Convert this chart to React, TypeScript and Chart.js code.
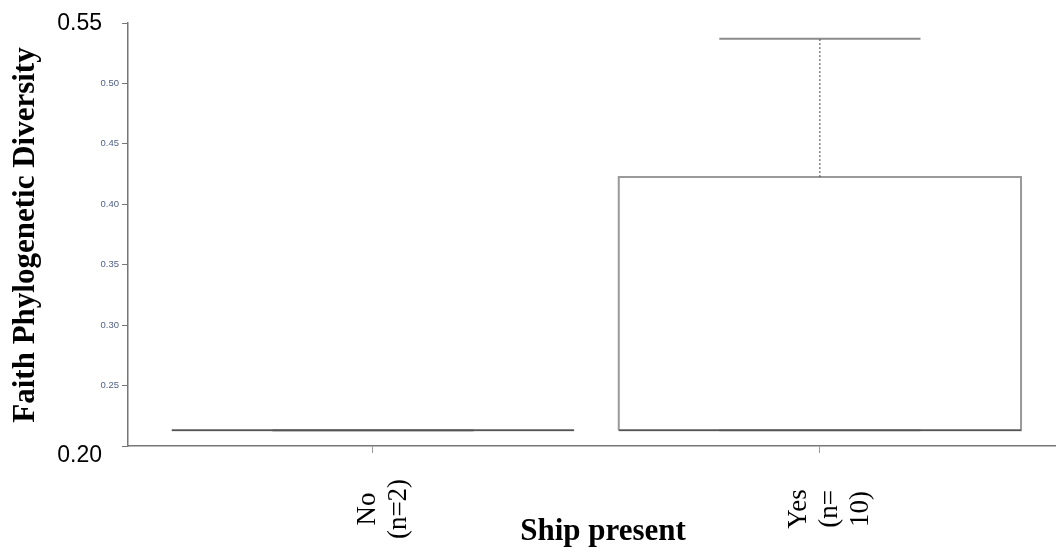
import React, { useEffect, useRef } from "react";
import { Chart, registerables } from "chart.js";

Chart.register(...registerables);

// ---- data ----
const categories = ["No", "Yes"];
const categoryLabelLines = [
  ["No", "(n=2)"],
  ["Yes", "(n=", "10)"],
];
const minValues = [0.213, 0.213];
const q1Values = [0.213, 0.213];
const medianValues = [0.213, 0.213];
const q3Values = [0.213, 0.4225];
const maxValues = [0.213, 0.537];

const yMin = 0.2;
const yMax = 0.55;
const yStep = 0.05;
const yEdgeLabels = ["0.55", "0.20"];
const yTitle = "Faith Phylogenetic Diversity";
const xTitle = "Ship present";

// x-axis range (categories sit at 1, 2, ...)
const xMin = 0.452;
const xMax = 2.526;

const BOX_HALF = 0.45;
const CAP_HALF = 0.225;

const seg = (x0: number, y0: number, x1: number, y1: number) => [
  { x: x0, y: y0 },
  { x: x1, y: y1 },
];

function buildDatasets() {
  const ds: any[] = [];
  categories.forEach((_, i) => {
    const c = i + 1;
    const base = { showLine: true, pointRadius: 0, fill: false, tension: 0 };
    ds.push({
      ...base,
      order: 3,
      data: [
        { x: c - BOX_HALF, y: q1Values[i] },
        { x: c - BOX_HALF, y: q3Values[i] },
        { x: c + BOX_HALF, y: q3Values[i] },
        { x: c + BOX_HALF, y: q1Values[i] },
        { x: c - BOX_HALF, y: q1Values[i] },
      ],
      borderColor: "#9a9a9a",
      borderWidth: 2,
    });
    ds.push({
      ...base,
      order: 0,
      data: seg(c - BOX_HALF, medianValues[i], c + BOX_HALF, medianValues[i]),
      borderColor: "#555555",
      borderWidth: 1.5,
    });
    ds.push({
      ...base,
      order: 1,
      data: seg(c, q3Values[i], c, maxValues[i]),
      borderColor: "#444444",
      borderWidth: 1,
      borderDash: [2, 2],
    });
    ds.push({
      ...base,
      order: 1,
      data: seg(c, minValues[i], c, q1Values[i]),
      borderColor: "#444444",
      borderWidth: 1,
      borderDash: [2, 2],
    });
    ds.push({
      ...base,
      order: 2,
      data: seg(c - CAP_HALF, maxValues[i], c + CAP_HALF, maxValues[i]),
      borderColor: "#8a8a8a",
      borderWidth: 2,
    });
    ds.push({
      ...base,
      order: 2,
      data: seg(c - CAP_HALF, minValues[i], c + CAP_HALF, minValues[i]),
      borderColor: "#8a8a8a",
      borderWidth: 2,
    });
  });
  return ds;
}

const textPlugin = {
  id: "textPlugin",
  afterDraw(chart: any) {
    const ctx = chart.ctx;
    const xs = chart.scales.x;
    const ys = chart.scales.y;
    ctx.save();
    ctx.fillStyle = "#000";

    // big edge labels
    ctx.font = '23px "Liberation Sans", Arial, sans-serif';
    ctx.textAlign = "right";
    ctx.textBaseline = "middle";
    ctx.fillText(yEdgeLabels[0], ys.right - 26, ys.getPixelForValue(yMax) + 1);
    ctx.fillText(yEdgeLabels[1], ys.right - 26, ys.getPixelForValue(yMin) + 10);

    // y title
    ctx.font = 'bold 31px "Liberation Serif", "Times New Roman", serif';
    ctx.save();
    ctx.translate(26, 235);
    ctx.rotate(-Math.PI / 2);
    ctx.textAlign = "center";
    ctx.textBaseline = "middle";
    ctx.fillText(yTitle, 0, 0);
    ctx.restore();

    // x title
    ctx.textAlign = "center";
    ctx.textBaseline = "alphabetic";
    ctx.fillText(xTitle, 603, 540);

    // category labels (rotated)
    ctx.font = '27px "Liberation Serif", "Times New Roman", serif';
    const lh = 31;
    categoryLabelLines.forEach((lines, i) => {
      const px = xs.getPixelForValue(i + 1);
      const start = px + 10 - ((lines.length - 1) * lh) / 2;
      lines.forEach((ln, j) => {
        ctx.save();
        ctx.translate(start + j * lh, 509);
        ctx.rotate(-Math.PI / 2);
        ctx.textAlign = "center";
        ctx.textBaseline = "middle";
        ctx.fillText(ln, 0, 0);
        ctx.restore();
      });
    });
    ctx.restore();
  },
};

export default function App() {
  const ref = useRef<HTMLCanvasElement | null>(null);
  useEffect(() => {
    if (!ref.current) return;
    const chart = new Chart(ref.current, {
      type: "scatter",
      data: { datasets: buildDatasets() },
      options: {
        responsive: false,
        animation: false,
        layout: { padding: { left: 0, top: 23, right: 2, bottom: 0 } },
        plugins: { legend: { display: false }, tooltip: { enabled: false } },
        scales: {
          x: {
            type: "linear",
            min: xMin,
            max: xMax,
            afterBuildTicks: (scale: any) => {
              scale.ticks = categories.map((_, i) => ({ value: i + 1 }));
            },
            afterFit: (scale: any) => {
              scale.height = 548 - 446;
            },
            ticks: { display: false },
            grid: {
              display: true,
              drawOnChartArea: false,
              drawTicks: true,
              tickLength: 7,
              color: "#999",
              lineWidth: 1,
            },
            border: { display: true, color: "#777", width: 1.5 },
          },
          y: {
            type: "linear",
            min: yMin,
            max: yMax,
            afterFit: (scale: any) => {
              scale.width = 128;
            },
            ticks: {
              stepSize: yStep,
              padding: 3,
              color: "#4f5f85",
              font: { size: 9.5, family: '"Liberation Sans", Arial, sans-serif' },
              callback: (v: any) => {
                const n = Number(v);
                if (Math.abs(n - yMin) < 1e-6 || Math.abs(n - yMax) < 1e-6) return "";
                return n.toFixed(2);
              },
            },
            grid: {
              display: true,
              drawOnChartArea: false,
              drawTicks: true,
              tickLength: 6,
              color: "#777",
              lineWidth: 1,
            },
            border: { display: true, color: "#777", width: 1.5 },
          },
        },
      },
      plugins: [textPlugin],
    } as any);
    return () => chart.destroy();
  }, []);
  return (
    <div style={{ position: "absolute", left: 0, top: 0, width: 1057, height: 548, background: "#fff" }}>
      <canvas ref={ref} width={1057} height={548} style={{ display: "block" }} />
    </div>
  );
}
